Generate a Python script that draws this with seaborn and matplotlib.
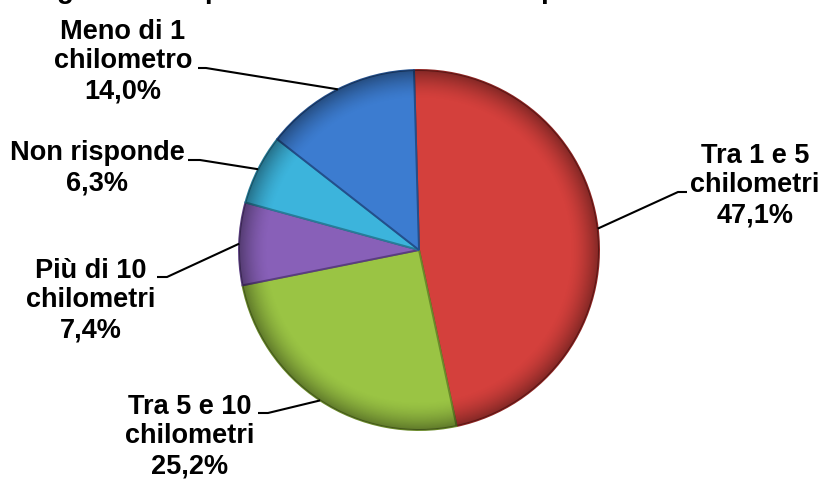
import numpy as np
import matplotlib
matplotlib.use("Agg")
import matplotlib.pyplot as plt
import seaborn as sns
from matplotlib.patches import Circle

# Distance categories, in drawing order (clockwise from the top)
categories = ["Tra 1 e 5\nchilometri", "Tra 5 e 10\nchilometri",
              "Più di 10\nchilometri", "Non risponde", "Meno di 1\nchilometro"]
shares = [47.1, 25.2, 7.4, 6.3, 14.0]
title_text = "Lunghezza del percorso casa-lavoro dei pendolari"

slice_colors = ["#d4403c", "#9ac444", "#8860b8", "#3cb4dc", "#3c7cd0"]
edge_colors = ["#8e2422", "#6a8a2a", "#5a3d80", "#277d99", "#234f8c"]

sns.set_theme(style="white")
plt.rcParams["font.family"] = ["Liberation Sans", "DejaVu Sans"]

W, H = 824, 482
CX, CY, R = 419, 250, 180   # pie centre and radius in pixels


def px(x, y):
    """Pixel position (from top-left) to data coordinates."""
    return ((x - CX) / R, (CY - y) / R)


fig = plt.figure(figsize=(W / 100, H / 100), dpi=100)
fig.patch.set_facecolor("white")
ax = fig.add_axes([0, 0, 1, 1])

wedges, _ = ax.pie(shares, colors=slice_colors, startangle=91.6,
                   counterclock=False, radius=1, center=(0, 0),
                   wedgeprops=dict(linewidth=1.4))
for w, ec in zip(wedges, edge_colors):
    w.set_edgecolor(ec)

# soft bevel: darken the rim of the pie
n = 500
yy, xx = np.mgrid[-1:1:n * 1j, -1:1:n * 1j]
rr = np.hypot(xx, yy)
shade = np.zeros((n, n, 4))
shade[..., 3] = np.clip((rr - 0.84) / 0.16, 0, 1) ** 1.6 * 0.38
im = ax.imshow(shade, extent=(-1, 1, -1, 1), origin="lower", zorder=3,
               interpolation="bilinear")
im.set_clip_path(Circle((0, 0), 1, transform=ax.transData))

# label placement: last-line baseline (centre x), elbow of the leader, end of the leader
layout = [
    ((755, 222), (678, 192), (687, 192)),
    ((190, 473), (268, 413), (258, 413)),
    ((91, 337), (167, 277), (157, 277)),
    ((97, 190), (200, 160), (188, 160)),
    ((123, 98), (206, 68), (198, 68)),
]

for w, cat, val, (tpos, knee, end) in zip(wedges, categories, shares, layout):
    mid = np.deg2rad((w.theta1 + w.theta2) / 2)
    x0, y0 = w.r * np.cos(mid), w.r * np.sin(mid)
    k = px(*knee)
    e = px(*end)
    ax.plot([x0, k[0], e[0]], [y0, k[1], e[1]], color="black", lw=1.5,
            zorder=4, solid_capstyle="butt")
    label = f"{cat}\n{val:.1f}%".replace(".", ",")
    tx, ty = px(*tpos)
    ax.text(tx, ty, label, ha="center", va="baseline", fontsize=19.5,
            fontweight="bold", linespacing=1.18, color="black", zorder=5)

ax.set_xlim(-CX / R, (W - CX) / R)
ax.set_ylim(-(H - CY) / R, CY / R)
ax.set_aspect("equal")
ax.axis("off")

fig.text(6 / W, 1 + 1.5 / H, title_text, ha="left", va="baseline",
         fontsize=20, fontweight="bold", color="black")

fig.savefig("out.png", dpi=100, facecolor="white")
